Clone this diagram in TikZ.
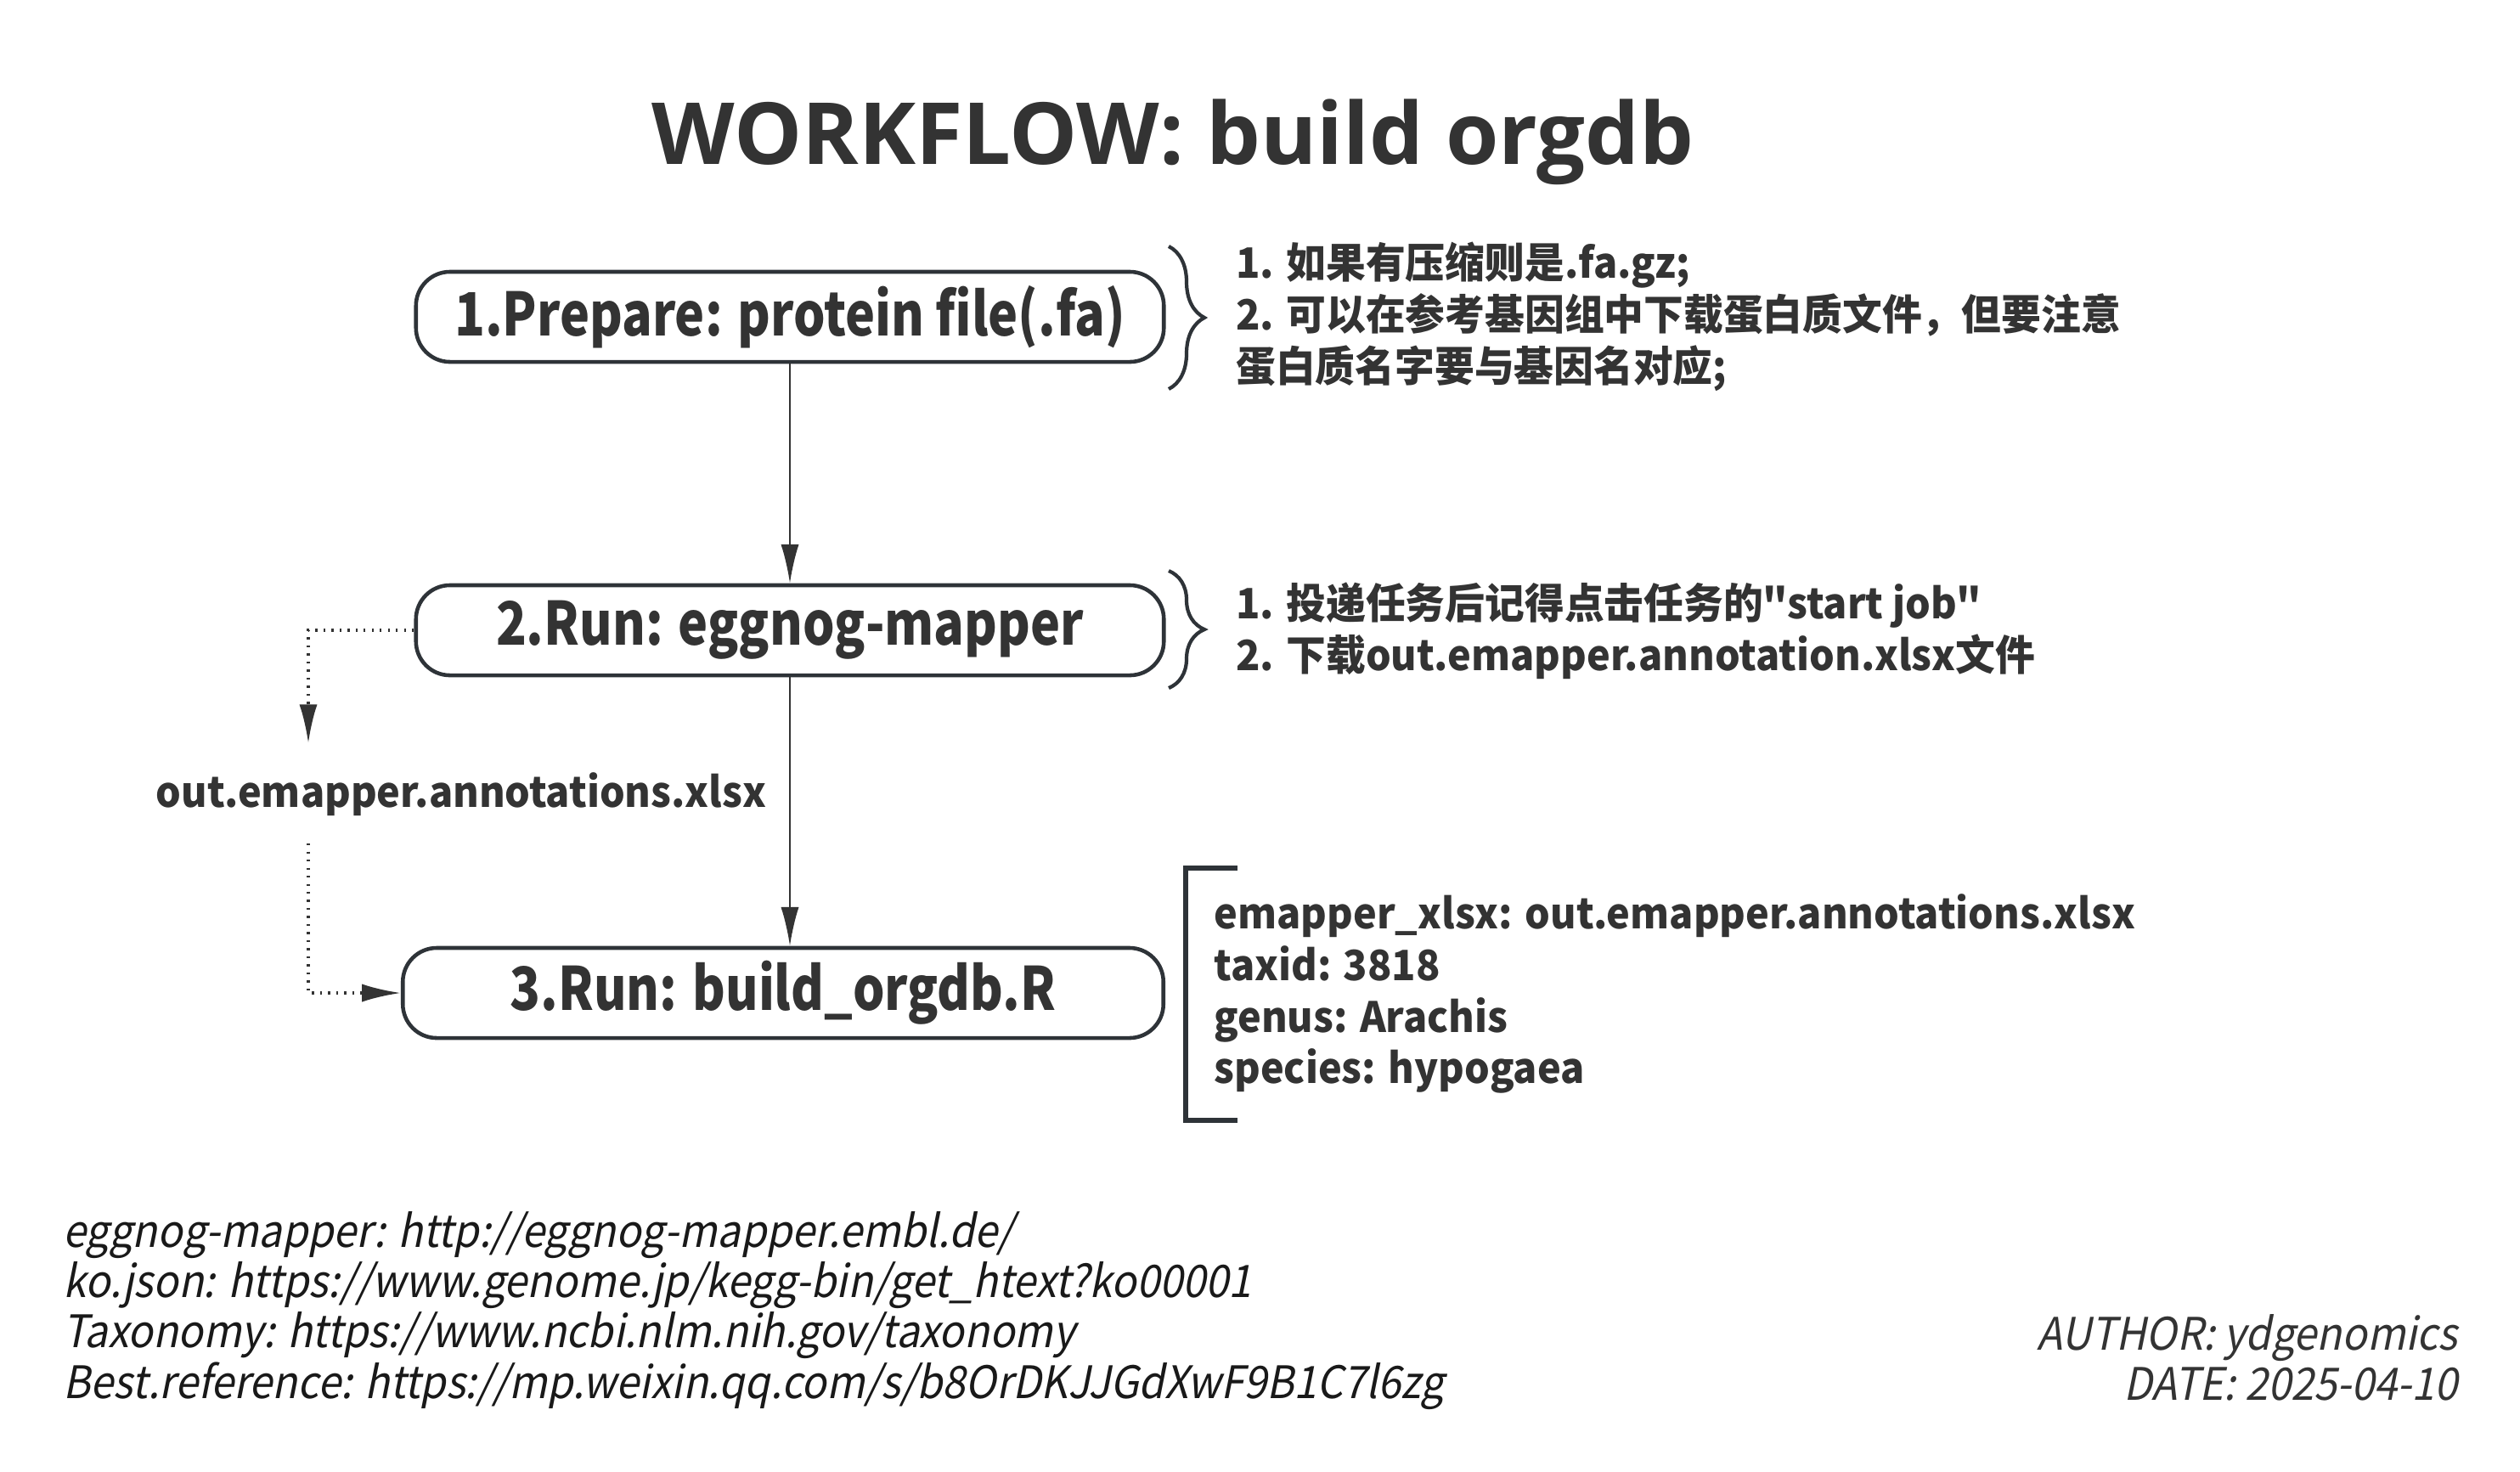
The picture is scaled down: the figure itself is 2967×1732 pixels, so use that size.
\documentclass[tikz,border=0pt]{standalone}
\usepackage{fontspec}
\setmainfont{Noto Sans CJK SC}
\newfontfamily\titlefont{Open Sans}
\newfontfamily\boxfont{Noto Sans CJK SC}[FakeStretch=0.84]
\newfontfamily\notefont{Noto Sans CJK SC}[FakeStretch=0.95,Ligatures=TeXOff]
\newfontfamily\reffont{Noto Sans CJK SC}[FakeSlant=0.2,FakeStretch=0.925]
\usetikzlibrary{arrows.meta,decorations.pathreplacing}
\definecolor{ink}{HTML}{333333}
\definecolor{edgeline}{HTML}{2E3338}

\begin{document}
\begin{tikzpicture}[x=0.01cm,y=-0.01cm,
  stepbox/.style={draw=edgeline,line width=1.3pt,rounded corners=0.4cm,
    minimum height=1.06cm,text=ink,font=\boxfont\bfseries\fontsize{20}{24}\selectfont},
  note/.style={anchor=west,align=left,text=ink,font=\notefont\bfseries\fontsize{14}{17.3}\selectfont},
  flow/.style={draw=ink,line width=0.7pt,-{Latex[length=13pt,width=6pt]}},
  dataflow/.style={flow,dotted,line width=1pt},
  curly/.style={draw=edgeline,line width=1.2pt,decorate,decoration={brace,amplitude=0.42cm}}]
\useasboundingbox (0,0) rectangle (2967,1732);

\node[text=ink,font=\titlefont\bfseries\fontsize{28.7}{34}\selectfont] (title) at (1381,167) {WORKFLOW: build orgdb};

% steps
\node[stepbox,minimum width=8.8cm] (prep) at (930,373) {1.Prepare: protein file(.fa)};
\node[stepbox,minimum width=8.8cm] (emap) at (930,742) {2.Run: eggnog-mapper};
\node[stepbox,minimum width=8.95cm] (orgdb) at (922,1169) {3.Run: build\_orgdb.R};

\draw[flow] (prep) -- (emap);
\draw[flow] (emap.south) -- (emap.south |- orgdb.north);

% emapper output
\node[note,anchor=center] (outfile) at (543,935) {out.emapper.annotations.xlsx};
\coordinate (outtop) at (363,875);
\coordinate (outbot) at (363,993);
\draw[dataflow] (emap.west) -| (outtop);
\draw[dataflow] (outbot) |- (orgdb.west);

% notes
\draw[curly] (1376,290) -- (1376,458);
\node[note] (prepnote) at (1443,373) {1. 如果有压缩则是.fa.gz;\\2. 可以在参考基因组中下载蛋白质文件，但要注意\\蛋白质名字要与基因名对应;};
\draw[curly] (1376,672) -- (1376,810);
\node[note] (emapnote) at (1443,743) {1. 投递任务后记得点击任务的"start job"\\2. 下载out.emapper.annotation.xlsx文件};
\draw[draw=edgeline,line width=1.5pt] (1457,1022) -- (1396,1022) -- (1396,1319) -- (1457,1319);
\node[note] (params) at (1417,1170) {emapper\_xlsx: out.emapper.annotations.xlsx\\taxid: 3818\\genus: Arachis\\species: hypogaea};

% footer
\node[anchor=west,align=left,text=black!90,font=\reffont\fontsize{15}{16.8}\selectfont] (links) at (62,1543) {eggnog-mapper: http://eggnog-mapper.embl.de/\\ko.json: https://www.genome.jp/kegg-bin/get\_htext?ko00001\\Taxonomy: https://www.ncbi.nlm.nih.gov/taxonomy\\Best.reference: https://mp.weixin.qq.com/s/b8OrDKJJGdXwF9B1C7l6zg};
\node[anchor=east,align=right,text=ink,font=\reffont\fontsize{15}{16.8}\selectfont] (author) at (2906,1598) {AUTHOR: ydgenomics\\DATE: 2025-04-10};
\end{tikzpicture}
\end{document}
